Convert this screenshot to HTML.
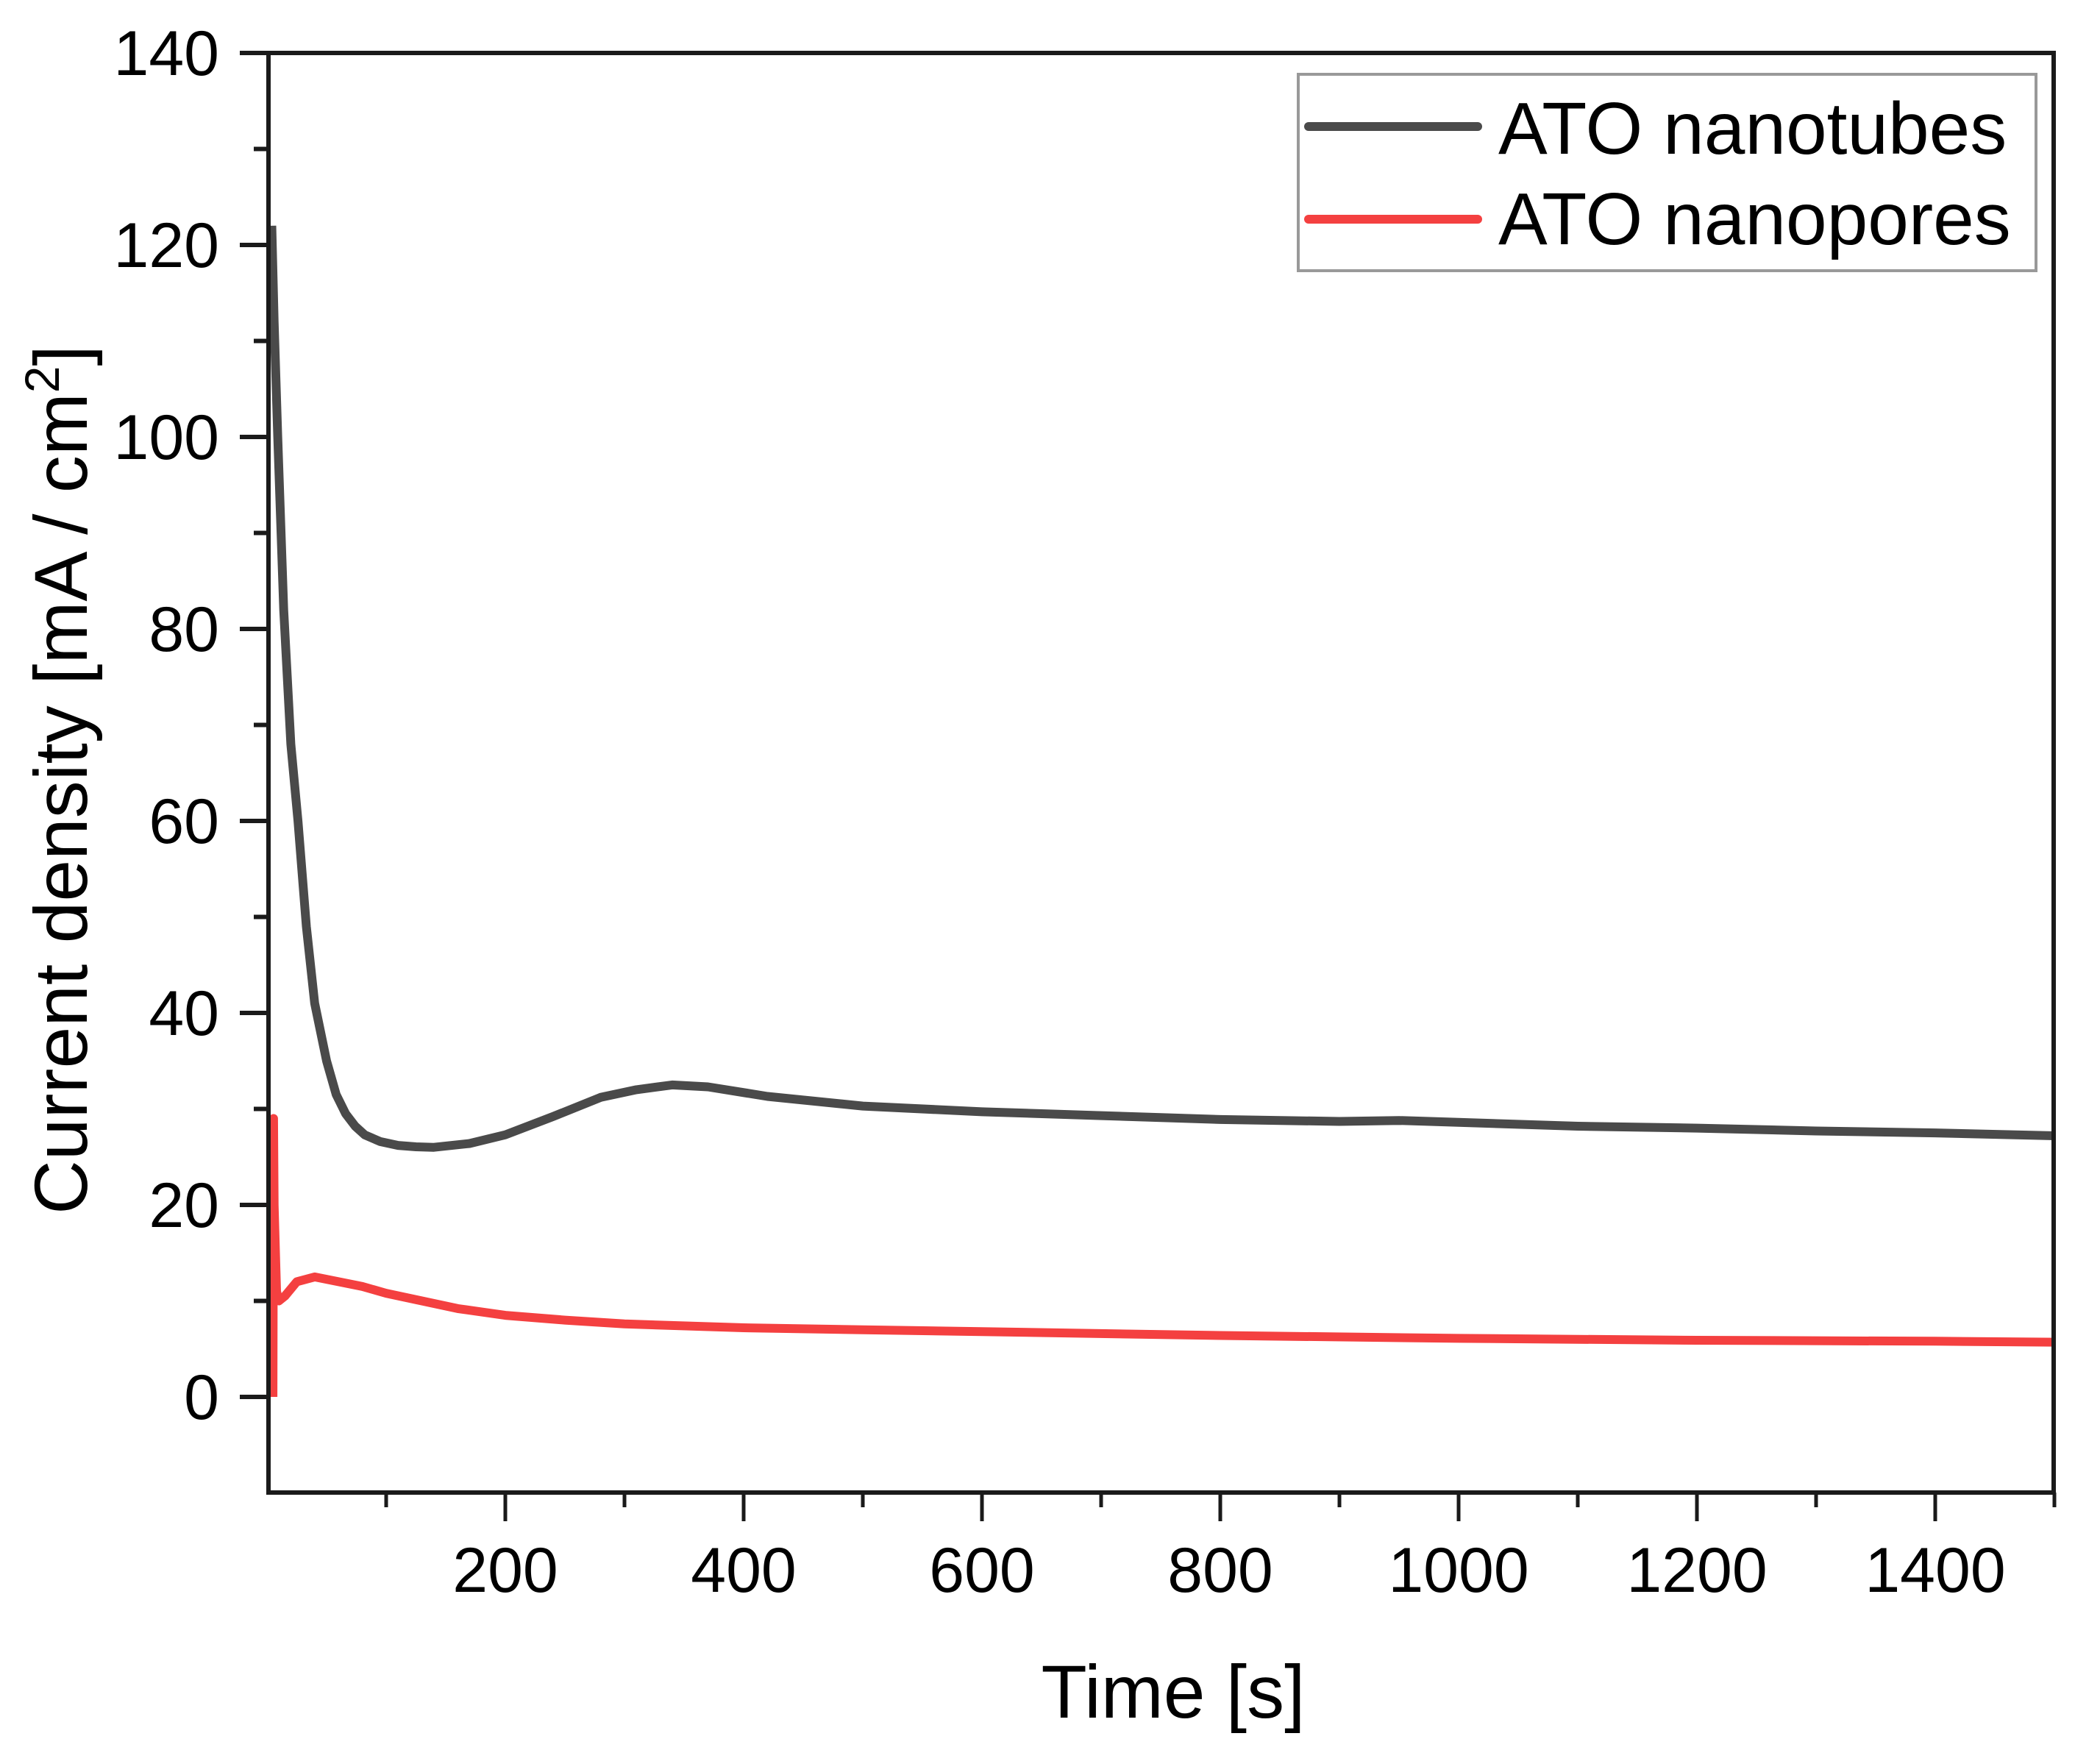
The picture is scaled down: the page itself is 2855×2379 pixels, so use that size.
<!DOCTYPE html>
<html><head><meta charset="utf-8"><style>
html,body{margin:0;padding:0;background:#fff;}
svg{display:block;font-family:"Liberation Sans",Arial,sans-serif;}
</style></head><body>
<svg id="chart" width="2855" height="2379" viewBox="0 0 2855 2379" xmlns="http://www.w3.org/2000/svg">
<g id="series"></g>
<g id="axes"></g>
<text x="1595" y="2335" font-size="102" text-anchor="middle" fill="#000">Time [s]</text>
<text transform="translate(118,1060) rotate(-90)" font-size="102" text-anchor="middle" fill="#000">Current density [mA / cm<tspan font-size="66" dy="-38">2</tspan><tspan dy="38">]</tspan></text>
<g>
<rect x="1765" y="101" width="1003" height="267" fill="#fff" stroke="#999" stroke-width="4"/>
<line x1="1779" y1="172" x2="2009" y2="172" stroke="#4a4a4a" stroke-width="12" stroke-linecap="round"/>
<text x="2037" y="209" font-size="100" fill="#000">ATO nanotubes</text>
<line x1="1779" y1="298" x2="2009" y2="298" stroke="#f44040" stroke-width="12" stroke-linecap="round"/>
<text x="2037" y="332" font-size="100" fill="#000">ATO nanopores</text>
</g>
</svg>
<script>
const xTicks = [200, 400, 600, 800, 1000, 1200, 1400];
const yTicks = [0, 20, 40, 60, 80, 100, 120, 140];
const tubesT = [4, 6, 9, 14, 20, 26, 33, 40, 50, 58, 66, 74, 82, 95, 110, 125, 140, 170, 200, 240, 280, 310, 340, 370, 420, 500, 600, 700, 800, 900, 950, 1000, 1100, 1200, 1300, 1400, 1500];
const tubesY = [122, 112, 100, 82, 68, 60, 49, 41, 35, 31.5, 29.5, 28.2, 27.3, 26.6, 26.2, 26.05, 26, 26.4, 27.3, 29.2, 31.2, 32, 32.5, 32.3, 31.3, 30.3, 29.7, 29.3, 28.9, 28.7, 28.8, 28.6, 28.2, 28, 27.7, 27.5, 27.2];
const poresT = [5, 5.5, 6, 8, 10, 15, 25, 40, 60, 80, 100, 130, 160, 200, 250, 300, 400, 500, 600, 800, 1000, 1200, 1400, 1500];
const poresY = [0, 29, 20, 11, 10, 10.5, 12, 12.5, 12, 11.5, 10.8, 10, 9.2, 8.5, 8, 7.6, 7.2, 7, 6.8, 6.4, 6.1, 5.9, 5.8, 5.7];

const X0 = 363, XS = 1.62, Y0 = 1899, YS = 13.05;
const L = 365, R = 2792, T = 72, B = 2029;
const xs = t => X0 + t * XS;
const ys = v => Y0 - v * YS;
const NS = 'http://www.w3.org/2000/svg';
const axes = document.getElementById('axes');
const series = document.getElementById('series');
function mk(tag, attrs, parent) {
  const e = document.createElementNS(NS, tag);
  for (const k in attrs) e.setAttribute(k, attrs[k]);
  parent.appendChild(e);
  return e;
}
function path(ts, vs, color, w, name) {
  let d = '';
  ts.forEach((t, i) => { d += (i ? 'L' : 'M') + xs(t).toFixed(1) + ' ' + ys(vs[i]).toFixed(1); });
  const p = mk('path', {d: d, fill: 'none', stroke: color, 'stroke-width': w, 'stroke-linejoin': 'round'}, series);
  
  
}
path(poresT, poresY, '#f44040', 12, 'line-ato-nanopores');
path(tubesT, tubesY, '#4a4a4a', 12, 'line-ato-nanotubes');

const frame = mk('rect', {x: L, y: T, width: R - L, height: B - T, fill: 'none', stroke: '#1a1a1a', 'stroke-width': 6}, axes);



for (let t = 100; t <= 1500; t += 100) {
  const major = xTicks.indexOf(t) >= 0;
  const tk = mk('line', {x1: xs(t), x2: xs(t), y1: B, y2: B + (major ? 39 : 20), stroke: '#1a1a1a', 'stroke-width': 5}, axes);
  
  
}
xTicks.forEach(t => {
  const tx = mk('text', {x: xs(t), y: 2164, 'font-size': 86, 'text-anchor': 'middle', fill: '#000'}, axes);
  tx.textContent = t;
  
  
});
for (let v = 0; v <= 140; v += 10) {
  const major = yTicks.indexOf(v) >= 0;
  const tk = mk('line', {x1: L - (major ? 39 : 20), x2: L, y1: ys(v), y2: ys(v), stroke: '#1a1a1a', 'stroke-width': 6}, axes);
  
  
}
yTicks.forEach(v => {
  const tx = mk('text', {x: 298, y: ys(v) + 30, 'font-size': 86, 'text-anchor': 'end', fill: '#000'}, axes);
  tx.textContent = v;
  
  
});
</script>
</body></html>
